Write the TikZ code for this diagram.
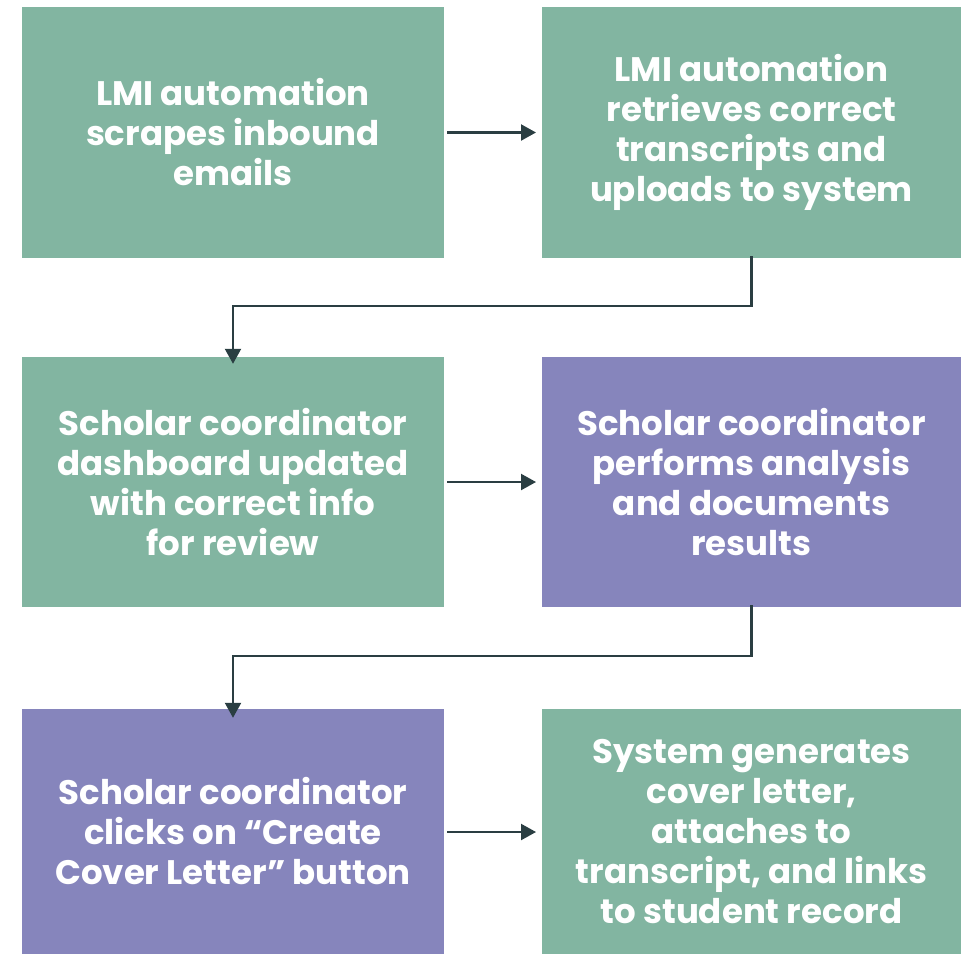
\documentclass[tikz,border=0pt]{standalone}
\usepackage{fontspec}
\setmainfont{Poppins}
\usetikzlibrary{arrows.meta}
\definecolor{boxgreen}{HTML}{82B5A1}
\definecolor{boxpurple}{HTML}{8685BC}
\definecolor{arrowdark}{HTML}{2A3E42}
\begin{document}
\begin{tikzpicture}[x=1pt,y=-1pt,
  stepbox/.style={rectangle, inner sep=0pt, minimum width=#1, text=white, align=center,
    font=\fontsize{34}{40}\selectfont\bfseries},
  greenbox/.style={stepbox=422pt, fill=boxgreen},
  greenboxr/.style={stepbox=419pt, fill=boxgreen},
  purplebox/.style={stepbox=422pt, fill=boxpurple},
  purpleboxr/.style={stepbox=419pt, fill=boxpurple},
  conn/.style={draw=arrowdark, line width=2.2pt, -{Triangle[length=15pt,width=16pt]}}]
\useasboundingbox (0,0) rectangle (961,954);
\node[greenbox, minimum height=251pt] (a) at (233,132.5) {LMI automation\\scrapes inbound\\emails};
\node[greenboxr, minimum height=251pt] (b) at (751.5,132.5) {LMI automation\\retrieves correct\\transcripts and\\uploads to system};
\node[greenbox, minimum height=250pt] (c) at (233,482) {Scholar coordinator\\dashboard updated\\with correct info\\for review};
\node[purpleboxr, minimum height=250pt] (d) at (751.5,482) {Scholar coordinator\\performs analysis\\and documents\\results};
\node[purplebox, minimum height=245pt] (e) at (233,831.5) {Scholar coordinator\\clicks on “Create\\Cover Letter” button};
\node[greenboxr, minimum height=245pt] (f) at (751.5,831.5) {System generates\\cover letter,\\attaches to\\transcript, and links\\to student record};
\coordinate (a1) at (447,132.5);
\coordinate (b1) at (536,132.5);
\draw[conn] (a1) -- (b1);
\coordinate (c1) at (447,482);
\coordinate (d1) at (536,482);
\draw[conn] (c1) -- (d1);
\coordinate (e1) at (447,832);
\coordinate (f1) at (536,832);
\draw[conn] (e1) -- (f1);
\draw[conn] ([yshift=2pt]b.south) -- ++(0,50) -| ([yshift=-7pt]c.north);
\draw[conn] ([yshift=2pt]d.south) -- ++(0,51) -| ([yshift=-9pt]e.north);
\end{tikzpicture}
\end{document}
